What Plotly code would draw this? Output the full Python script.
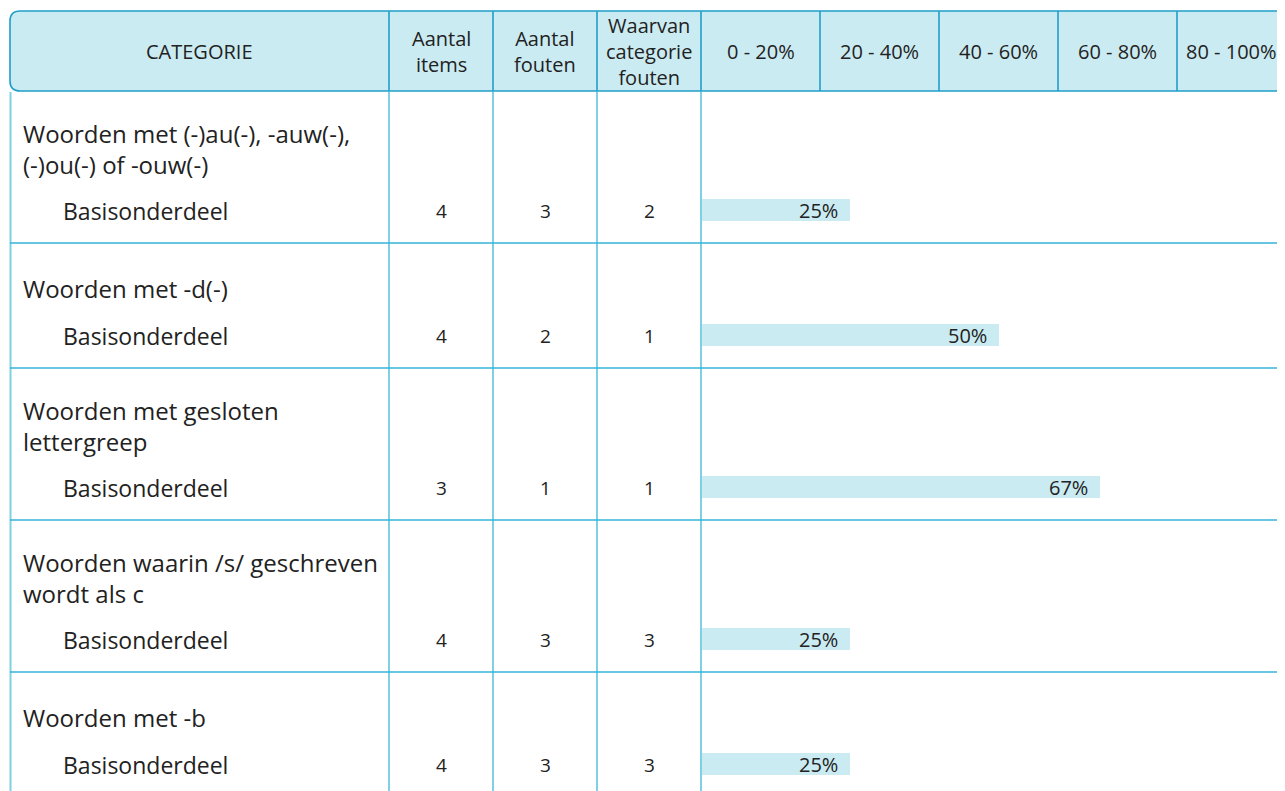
import plotly.graph_objects as go

# ---------------- data ----------------
header_labels = ["CATEGORIE", "Aantal<br>items", "Aantal<br>fouten", "Waarvan<br>categorie<br>fouten",
                 "0 - 20%", "20 - 40%", "40 - 60%", "60 - 80%", "80 - 100%"]
categories = ["Woorden met (-)au(-), -auw(-),<br>(-)ou(-) of -ouw(-)",
              "Woorden met -d(-)",
              "Woorden met gesloten<br>lettergreep",
              "Woorden waarin /s/ geschreven<br>wordt als c",
              "Woorden met -b"]
subcategories = ["Basisonderdeel", "Basisonderdeel", "Basisonderdeel", "Basisonderdeel", "Basisonderdeel"]
aantal_items = [4, 4, 3, 4, 4]
aantal_fouten = [3, 2, 1, 3, 3]
categorie_fouten = [2, 1, 1, 3, 3]
percentages = [25, 50, 67, 25, 25]

# ---------------- layout geometry (page pixels) ----------------
W, H = 1285, 791
OFF = 8  # default page margin of the html body
FONT = "Open Sans"
TXT = "#222222"
HEAD_FILL = "#cbebf2"
HEAD_LINE = "#1f9fc9"
VLINE = "#7fd0e2"
HLINE = "#35b5d9"

left = 10
head_top, head_bot = 11, 91
col_edges = [389, 493, 597, 701, 820, 939, 1058, 1177, 1296]
bar_x0 = 701
px_per_pct = 5.95


def px(x):
    return (x - OFF) / W


def py(y):
    return 1 - (y - OFF) / H


# row tops/bottoms from number of category text lines
row_tops, row_bots = [], []
top = head_bot
for c in categories:
    n = c.count("<br>") + 1
    h = 125 + 27 * (n - 1)
    row_tops.append(top)
    row_bots.append(top + h)
    top += h
bar_centers = [b - 33 for b in row_bots]

fig = go.Figure()

fig.add_trace(go.Bar(
    x=percentages,
    y=bar_centers,
    orientation="h",
    width=22,
    marker=dict(color=HEAD_FILL, line=dict(width=0)),
    textposition="none",
    hoverinfo="skip",
    showlegend=False,
))

shapes = []
r = 10
path = (f"M {px(1300)},{py(head_top)} L {px(left + r)},{py(head_top)} "
        f"Q {px(left)},{py(head_top)} {px(left)},{py(head_top + r)} "
        f"L {px(left)},{py(head_bot - r)} Q {px(left)},{py(head_bot)} {px(left + r)},{py(head_bot)} "
        f"L {px(1300)},{py(head_bot)}")
shapes.append(dict(type="path", path=path, xref="paper", yref="paper",
                   fillcolor=HEAD_FILL, line=dict(color=HEAD_LINE, width=1.6), layer="below"))
for xe in col_edges[:-1]:
    shapes.append(dict(type="line", xref="paper", yref="paper",
                       x0=px(xe), x1=px(xe), y0=py(head_top), y1=py(head_bot),
                       line=dict(color=HEAD_LINE, width=1.6)))
for xe in [left + 0.5] + col_edges[:4]:
    shapes.append(dict(type="line", xref="paper", yref="paper",
                       x0=px(xe), x1=px(xe), y0=py(head_bot + 1), y1=py(H + 20),
                       line=dict(color=VLINE, width=2)))
for b in row_bots[:-1]:
    shapes.append(dict(type="line", xref="paper", yref="paper",
                       x0=px(left), x1=px(W + 20), y0=py(b), y1=py(b),
                       line=dict(color=HLINE, width=1.6)))

annotations = []
head_centers = [(left + col_edges[0]) / 2] + [(col_edges[i] + col_edges[i + 1]) / 2 for i in range(len(col_edges) - 1)]
head_centers[-1] = 1231
for lab, cx in zip(header_labels, head_centers):
    annotations.append(dict(text=lab, x=px(cx), y=py((head_top + head_bot) / 2 + 1),
                            xref="paper", yref="paper", xanchor="center", yanchor="middle",
                            showarrow=False, font=dict(family=FONT, size=20, color=TXT)))

num_centers = [(col_edges[i] + col_edges[i + 1]) / 2 for i in range(3)]
for i, c in enumerate(categories):
    n = c.count("<br>") + 1
    cy = row_tops[i] + 45 + 15 * (n - 1) - (2 if n > 1 else 0)
    annotations.append(dict(text=c, x=px(21), y=py(cy), xref="paper", yref="paper",
                            xanchor="left", yanchor="middle", align="left", showarrow=False,
                            font=dict(family=FONT, size=24, color=TXT)))
    annotations.append(dict(text=subcategories[i], x=px(61), y=py(bar_centers[i] + 1),
                            xref="paper", yref="paper", xanchor="left", yanchor="middle",
                            showarrow=False, font=dict(family=FONT, size=23, color=TXT)))
    for val, cx in zip([aantal_items[i], aantal_fouten[i], categorie_fouten[i]], num_centers):
        annotations.append(dict(text=str(val), x=px(cx), y=py(bar_centers[i] + 1),
                                xref="paper", yref="paper", xanchor="center", yanchor="middle",
                                showarrow=False, font=dict(family=FONT, size=19, color=TXT)))
    annotations.append(dict(text=f"{percentages[i]}%", x=percentages[i], y=bar_centers[i],
                            xref="x", yref="y", xanchor="right", yanchor="middle", xshift=-10,
                            showarrow=False, font=dict(family=FONT, size=20, color=TXT)))

fig.update_layout(
    width=W, height=H,
    margin=dict(l=0, r=0, t=0, b=0),
    paper_bgcolor="white", plot_bgcolor="rgba(0,0,0,0)",
    xaxis=dict(domain=[px(bar_x0), px(W)], range=[0, (W - bar_x0) / px_per_pct],
               visible=False, fixedrange=True),
    yaxis=dict(domain=[0, 1], range=[H + OFF, OFF], visible=False, fixedrange=True),
    shapes=shapes,
    annotations=annotations,
    bargap=0,
)

fig.write_html("out.html")
